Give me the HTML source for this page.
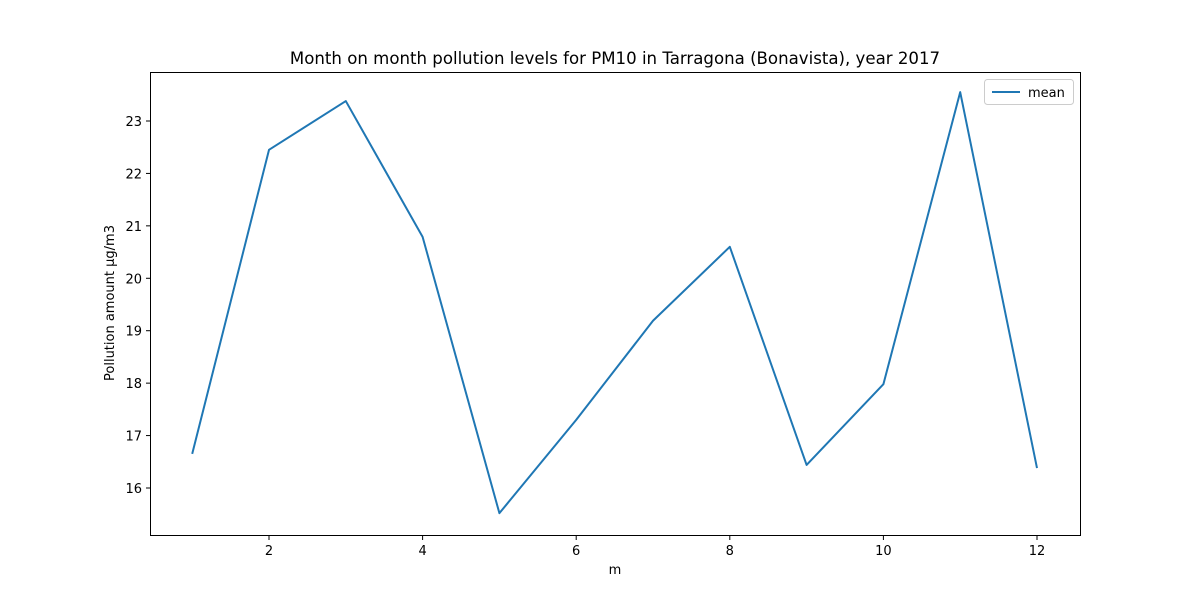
<!DOCTYPE html>
<html><head><meta charset="utf-8"><style>
body{margin:0;background:#fff;font-family:"Liberation Sans","DejaVu Sans",sans-serif;}
svg text{font-family:"DejaVu Sans","Liberation Sans",sans-serif;}
</style></head><body>
<svg id="chart" width="1200" height="600" xmlns="http://www.w3.org/2000/svg">
<rect width="1200" height="600" fill="#fff"/>
<text x="615" y="64" font-size="16.6" text-anchor="middle">Month on month pollution levels for PM10 in Tarragona (Bonavista), year 2017</text>
<g id="axes"></g>
<rect x="150.5" y="72.5" width="930" height="463" fill="none" stroke="#000" stroke-width="1"/>
<text x="615" y="574" font-size="13" text-anchor="middle">m</text>
<text transform="translate(114,303) rotate(-90)" font-size="13" text-anchor="middle">Pollution amount µg/m3</text>
<g>
<rect x="984.5" y="79.5" width="89" height="25" fill="#fff" stroke="#ccc" rx="3"/>
<line x1="992" y1="92" x2="1020" y2="92" stroke="#1f77b4" stroke-width="2"/>
<text x="1028" y="97" font-size="13">mean</text>
</g>
</svg>
<script>
const months=[1,2,3,4,5,6,7,8,9,10,11,12];
const meanValues=[16.65,22.45,23.38,20.79,15.52,17.30,19.19,20.60,16.44,17.98,23.55,16.38];
const xTicks=[2,4,6,8,10,12];
const yTicks=[16,17,18,19,20,21,22,23];
const NS="http://www.w3.org/2000/svg";
function xs(v){return 192.2+(v-1)*76.8;}
function ys(v){return 488-(v-16)*52.43;}
const g=document.getElementById('axes');
function mk(t,a){const e=document.createElementNS(NS,t);for(const k in a)e.setAttribute(k,a[k]);return e;}
xTicks.forEach(t=>{
 const l=mk('line',{x1:xs(t),x2:xs(t),y1:535.5,y2:540,stroke:'#000'});
 
 
 g.appendChild(l);
 const tx=mk('text',{x:xs(t),y:555,'font-size':13,'text-anchor':'middle'});
 tx.textContent=t;
 
 
 g.appendChild(tx);
});
yTicks.forEach(t=>{
 const l=mk('line',{x1:146,x2:150.5,y1:ys(t),y2:ys(t),stroke:'#000'});
 
 
 g.appendChild(l);
 const tx=mk('text',{x:142,y:ys(t)+5,'font-size':13,'text-anchor':'end'});
 tx.textContent=t;
 
 
 g.appendChild(tx);
});
const pts=months.map((m,i)=>xs(m)+','+ys(meanValues[i])).join(' ');
const pl=mk('polyline',{points:pts,fill:'none',stroke:'#1f77b4','stroke-width':2,'stroke-linejoin':'round'});


g.appendChild(pl);
</script>
</body></html>
